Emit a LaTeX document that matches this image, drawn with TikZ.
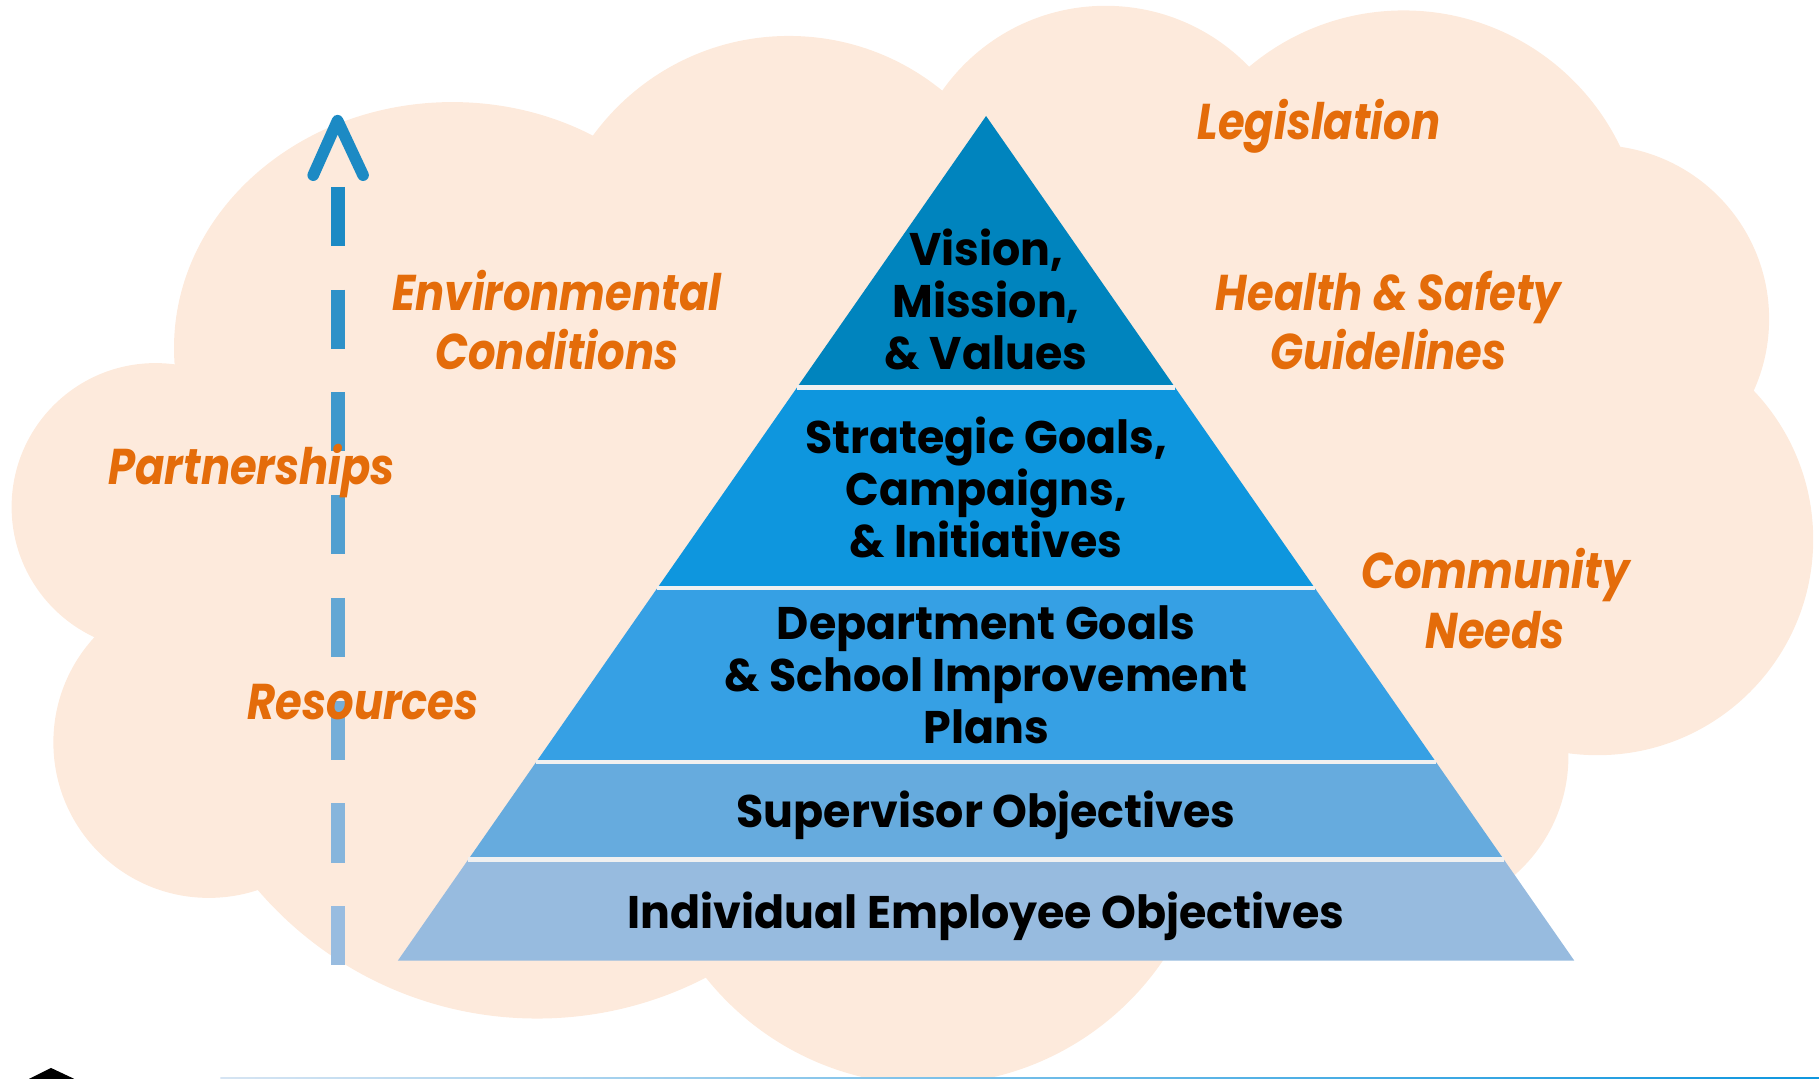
\documentclass[tikz,border=0pt]{standalone}
\usepackage{fontspec}
\setmainfont{Poppins}
\newfontfamily\factorfont[FakeStretch=0.86]{Poppins}
\newfontfamily\tierfont[FakeStretch=0.97]{Poppins}
\usetikzlibrary{calc}

\definecolor{cloudfill}{RGB}{253,234,220}
\definecolor{factortxt}{RGB}{228,108,10}
\definecolor{tierA}{RGB}{0,132,190}
\definecolor{tierB}{RGB}{14,150,222}
\definecolor{tierC}{RGB}{54,160,228}
\definecolor{tierD}{RGB}{102,171,222}
\definecolor{tierE}{RGB}{151,187,223}
\definecolor{arrowtop}{RGB}{28,138,196}
\definecolor{arrowbot}{RGB}{152,188,224}

\tikzset{
  factor/.style={text=factortxt, font=\factorfont\bfseries\itshape\fontsize{14.3}{16.8}\selectfont, align=center},
  tier/.style={font=\tierfont\bfseries\fontsize{13}{14.8}\selectfont, align=center},
  gapline/.style={draw=white!88!gray, line width=1.3pt},
  arrowdash/.style={line width=4pt},
  chevron/.style={draw=arrowtop, line width=3.3pt, line cap=round, line join=round},
}

\begin{document}
\begin{tikzpicture}[x=0.0116cm, y=-0.0116cm]
\useasboundingbox (0,0) rectangle (1568,930);

% nuvem de fundo
\fill[cloudfill] (390,300) ellipse [x radius=240, y radius=212];
\fill[cloudfill] (680,240) circle [radius=209];
\fill[cloudfill] (953,177) circle [radius=172];
\fill[cloudfill] (1210,216) circle [radius=207];
\fill[cloudfill] (1375,275) circle [radius=150];
\fill[cloudfill] (1377,465) circle [radius=186];
\fill[cloudfill] (1216,652) circle [radius=136];
\fill[cloudfill] (800,690) circle [radius=245];
\fill[cloudfill] (463,561) circle [radius=317];
\fill[cloudfill] (180,640) circle [radius=134];
\fill[cloudfill] (134,437) circle [radius=124];
\fill[cloudfill] (390,300) -- (680,240) -- (953,177) -- (1210,216) -- (1375,275)
  -- (1377,465) -- (1216,652) -- (800,690) -- (463,561) -- (180,640) -- (134,437) -- cycle;

% piramide
\coordinate (apex) at (850,100);
\coordinate (bl) at (343,828);
\coordinate (br) at (1357,828);
\foreach \ta/\tb/\col in {0/0.3214/tierA, 0.3214/0.5591/tierB, 0.5591/0.7651/tierC,
                          0.7651/0.8805/tierD, 0.8805/1/tierE}
  \fill[\col] ($(apex)!\ta!(bl)$) -- ($(apex)!\tb!(bl)$) -- ($(apex)!\tb!(br)$) -- ($(apex)!\ta!(br)$) -- cycle;
\foreach \t in {0.3214, 0.5591, 0.7651, 0.8805}
  \draw[gapline] ($(apex)!\t!(bl)$) -- ($(apex)!\t!(br)$);

\node[tier] (vision) at (850,258) {Vision,\\Mission,\\\& Values};
\node[tier] (strategic) at (850,420) {Strategic Goals,\\Campaigns,\\\& Initiatives};
\node[tier] (department) at (850,582) {Department Goals\\\& School Improvement\\Plans};
\node[tier] (supervisor) at (850,703) {Supervisor Objectives};
\node[tier] (individual) at (850,790) {Individual Employee Objectives};

% seta tracejada
\foreach \i in {0,...,7} {
  \pgfmathsetmacro\mix{100-\i*100/7}
  \draw[arrowdash, arrowtop!\mix!arrowbot] (291,{161+88.6*\i}) -- (291,{212+88.6*\i});
}
\draw[chevron] (270,151) -- (291,104) -- (313,151);

% fatores externos
\node[factor] (legislation) at (1137,109) {Legislation};
\node[factor] (environment) at (480,276) {Environmental\\Conditions};
\node[factor] (health) at (1197,276) {Health \& Safety\\Guidelines};
\node[factor] (partnerships) at (217,406) {Partnerships};
\node[factor] (community) at (1289,516) {Community\\Needs};
\node[factor] (resources) at (313,605) {Resources};

% restos na borda inferior
\fill[black] (25,930) -- (44,920.6) -- (64,930) -- cycle;
\shade[left color=arrowbot!40!white, right color=tierB] (190,928.9) rectangle (1568,930);
\end{tikzpicture}
\end{document}
